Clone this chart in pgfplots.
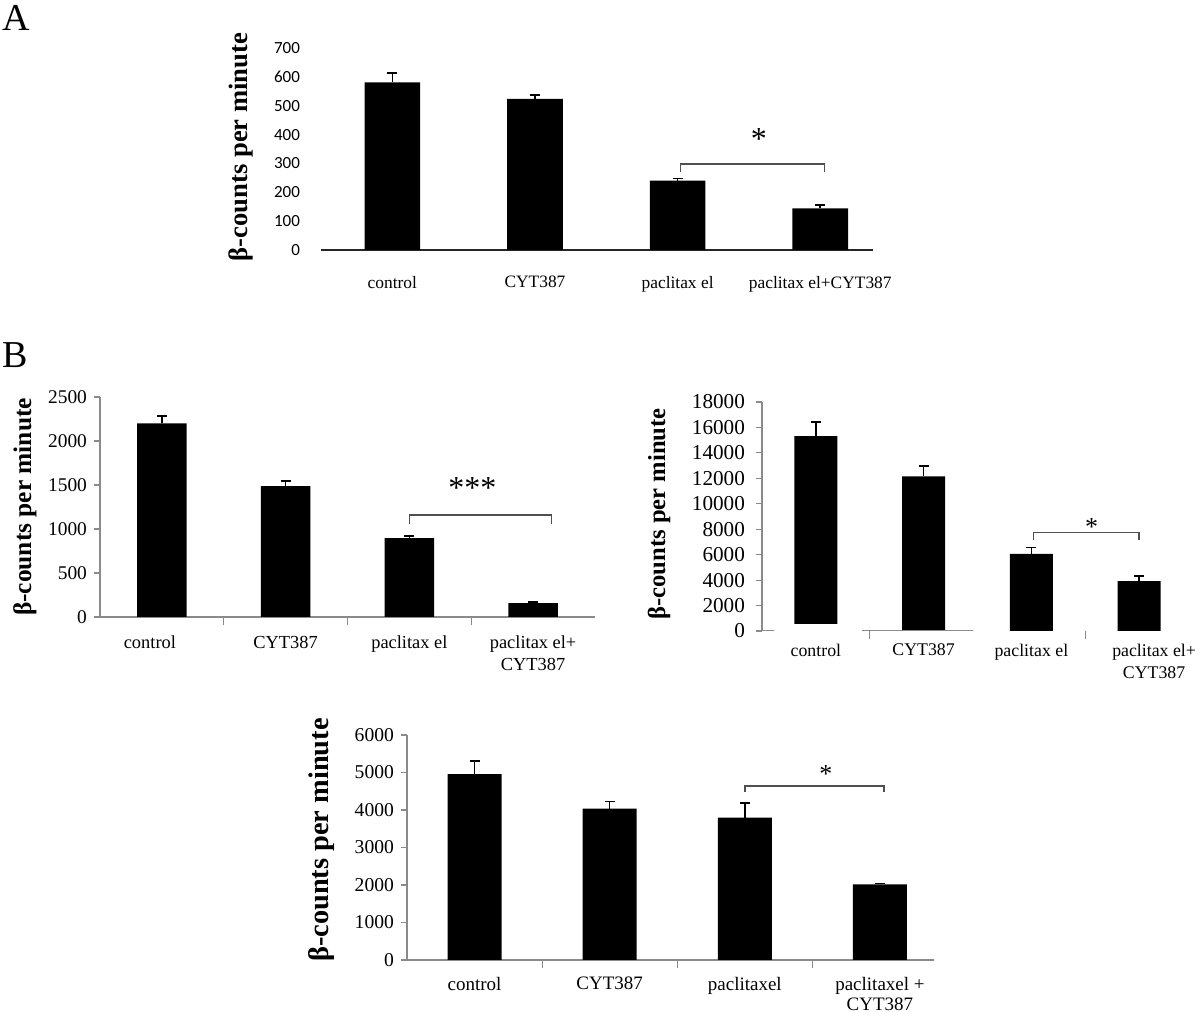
\documentclass[border=0pt]{standalone}
\usepackage{pgfplots}
\pgfplotsset{compat=1.18}
\usepackage{fontspec}
\setmainfont{Liberation Serif}
\newfontfamily\carlito{Carlito}
\definecolor{axgray}{HTML}{8A8A8A}
\definecolor{brgray}{HTML}{505050}

\pgfplotsset{
  panel/.style={
    scale only axis, anchor=south west, ybar,
    bar width=0.4,
    axis x line=bottom, axis y line=left,
    axis line style={-, draw=axgray, line width=0.7pt},
    xmin=-0.5, xmax=3.5, ymin=0,
    xtick={0,1,2,3},
    x tick style={draw=none},
    y tick style={draw=axgray, line width=0.6pt},
    tick align=outside, major tick length=3pt,
    extra x ticks={0.5,1.5,2.5}, extra x tick labels={},
    extra x tick style={x tick style={draw=axgray, line width=0.6pt}, major tick length=4pt},
    xticklabel style={align=center, anchor=north},
    scaled y ticks=false,
    /pgf/number format/assume math mode=true,
    /pgf/number format/1000 sep={},
    every axis y label/.style={rotate=90, anchor=center, font=\bfseries},
  },
  bars/.style={fill=black, draw=none,
    error bars/.cd, y dir=plus, y explicit,
    error bar style={line width=0.8pt, black},
    error mark options={rotate=90, mark size=2.5pt, line width=0.8pt, black}},
}

\begin{document}
\begin{tikzpicture}
\path[use as bounding box] (0,0) rectangle (600pt,506pt);

\node[anchor=west, inner sep=0pt, font=\fontsize{19}{21}\selectfont] at (1pt,497pt) {A};
\node[anchor=west, inner sep=0pt, font=\fontsize{19}{21}\selectfont] at (1pt,328.5pt) {B};

% ---------------- Panel A ----------------
\begin{axis}[panel,
  at={(160.5pt,381pt)}, width=276pt, height=101pt,
  xmax=3.37, ymax=700, ytick={0,100,...,700},
  bar width=0.39,
  y axis line style={draw=none}, y tick style={draw=none},
  x axis line style={draw=black!85, line width=0.8pt},
  extra x ticks={},
  yticklabel style={font=\carlito\fontsize{8.5}{9}\selectfont, xshift=-4pt},
  xticklabel style={font=\fontsize{8.7}{10}\selectfont, yshift=-6.5pt},
  xticklabels={control, CYT387, paclitax el, paclitax el+CYT387},
  ylabel={β-counts per minute},
  ylabel style={at={([xshift=-40pt]axis description cs:0,0.51)}, font=\fontsize{13.3}{14}\selectfont\bfseries},
]
\addplot[bars] coordinates {(0,581) +- (0,33) (1,524) +- (0,13) (2,240) +- (0,8) (3,144) +- (0,12)};
\draw[brgray, line width=0.7pt] (axis cs:2.02,270) -- (axis cs:2.02,298) -- (axis cs:3.03,298) -- (axis cs:3.03,270);
\node[font=\fontsize{16}{16}\selectfont] at (axis cs:2.57,385) {*};
\end{axis}

% ---------------- Panel B left ----------------
\begin{axis}[panel,
  at={(50pt,197.5pt)}, width=247.5pt, height=110pt,
  ymax=2500, ytick={0,500,...,2500},
  yticklabel style={font=\fontsize{9.7}{10}\selectfont},
  xticklabel style={font=\fontsize{9.2}{11}\selectfont, yshift=-3pt},
  xticklabels={control\hspace*{12pt}, CYT387, paclitax el, {paclitax el+\\CYT387}},
  ylabel={β-counts per minute},
  ylabel style={at={([xshift=-37.5pt]axis description cs:0,0.5)}, font=\fontsize{12.7}{13}\selectfont\bfseries},
]
\addplot[bars] coordinates {(0,2199) +- (0,87) (1,1488) +- (0,56) (2,896) +- (0,22) (3,157) +- (0,10)};
\draw[brgray, line width=0.7pt] (axis cs:2.0,1057) -- (axis cs:2.0,1160) -- (axis cs:3.15,1160) -- (axis cs:3.15,1057);
\node[font=\fontsize{16}{16}\selectfont] at (axis cs:2.51,1465) {***};
\end{axis}

% ---------------- Panel B right ----------------
\begin{axis}[panel,
  at={(381pt,190.5pt)}, width=215.5pt, height=114.5pt,
  ymax=18000, ytick={0,2000,...,18000},
  x axis line style={draw=none},
  extra x ticks={0.5,2.5},
  yticklabel style={font=\fontsize{10.6}{11}\selectfont, xshift=-2pt},
  xticklabel style={font=\fontsize{8.9}{11}\selectfont, yshift=0pt},
  xticklabels={control, CYT387, paclitax el, {\hspace*{15pt}paclitax el+\\\hspace*{15pt}CYT387}},
  ylabel={β-counts per minute},
  ylabel style={at={([xshift=-51.5pt]axis description cs:0,0.511)}, font=\fontsize{12.3}{13}\selectfont\bfseries},
]
\addplot[bars] coordinates {(0,15316) +- (0,1100) (1,12158) +- (0,790) (2,6053) +- (0,525) (3,3921) +- (0,420)};
\fill[white] (axis cs:-0.21,0) rectangle (axis cs:0.21,520);
\draw[axgray, line width=0.7pt] (axis cs:-0.5,0) -- (axis cs:-0.39,0);
\draw[axgray, line width=0.7pt] (axis cs:0.43,0) -- (axis cs:1.46,0);
\draw[brgray, line width=0.7pt] (axis cs:2.02,7160) -- (axis cs:2.02,7760) -- (axis cs:3.0,7760) -- (axis cs:3.0,7160);
\node[font=\fontsize{13}{13}\selectfont] at (axis cs:2.56,8200) {*};
\end{axis}

% ---------------- Panel B bottom ----------------
\begin{axis}[panel,
  at={(203.5pt,26pt)}, width=263.5pt, height=112.5pt,
  xmax=3.4, ymax=6000, ytick={0,1000,...,6000},
  yticklabel style={font=\fontsize{9.8}{10}\selectfont},
  xticklabel style={font=\fontsize{9.5}{10}\selectfont, yshift=-2pt},
  xticklabels={control, CYT387, paclitaxel, {paclitaxel +\\CYT387}},
  ylabel={β-counts per minute},
  ylabel style={at={([xshift=-42.5pt]axis description cs:0,0.533)}, font=\fontsize{14.2}{15}\selectfont\bfseries},
]
\addplot[bars] coordinates {(0,4957) +- (0,355) (1,4039) +- (0,187) (2,3798) +- (0,392) (3,2015) +- (0,27)};
\draw[brgray, line width=0.7pt] (axis cs:2.0,4484) -- (axis cs:2.0,4645) -- (axis cs:3.03,4645) -- (axis cs:3.03,4484);
\node[font=\fontsize{13}{13}\selectfont] at (axis cs:2.6,4950) {*};
\end{axis}
\end{tikzpicture}
\end{document}
